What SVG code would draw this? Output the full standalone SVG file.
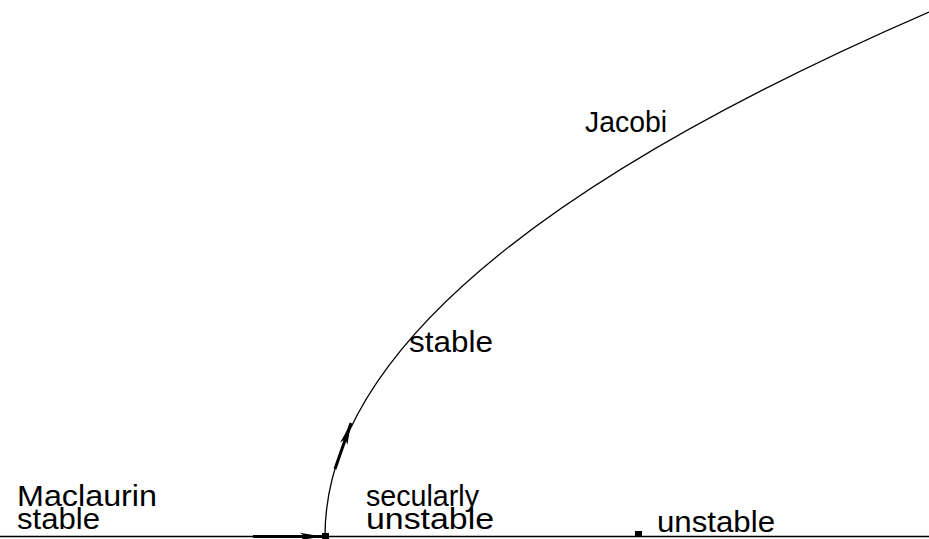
<svg xmlns="http://www.w3.org/2000/svg" width="929" height="539" viewBox="0 0 929 539">
<style>
.t{font-family:"Liberation Sans",Arial,sans-serif;font-size:29px;fill:#000}
.ln{fill:none;stroke:#000;stroke-width:1.3}
.th{fill:none;stroke:#000;stroke-width:3}
</style>
<defs>
<marker id="ah" markerWidth="24" markerHeight="10" refX="22" refY="5" orient="auto" markerUnits="userSpaceOnUse">
<path d="M0,1.2 L22,5 L0,8.8 L5,5 Z" fill="#000"/>
</marker>
</defs>
<rect width="929" height="539" fill="#fff"/>
<g id="connectors">
<path class="ln" d="M0,536.5 L929,536.5"/>
<path class="ln" d="M325,536 Q325,274 929,12"/>
<path class="th" d="M253,536.5 L322,536.5" marker-end="url(#ah)"/>
<path class="th" d="M335,469 L351,423" marker-end="url(#ah)"/>
</g>
<g id="node-bifurcation"><rect x="322" y="533" width="7" height="6" fill="#000"/></g>
<g id="node-unstable-point"><rect x="635" y="531" width="7" height="6" fill="#000"/></g>
<g id="label-maclaurin">
<text class="t" x="17" y="506" textLength="140" lengthAdjust="spacingAndGlyphs">Maclaurin</text>
<text class="t" x="17" y="529" textLength="83" lengthAdjust="spacingAndGlyphs">stable</text>
</g>
<g id="label-secular">
<text class="t" x="366" y="506" textLength="113" lengthAdjust="spacingAndGlyphs">secularly</text>
<text class="t" x="366" y="529" textLength="128" lengthAdjust="spacingAndGlyphs">unstable</text>
</g>
<g id="label-unstable"><text class="t" x="657" y="532" textLength="118" lengthAdjust="spacingAndGlyphs">unstable</text></g>
<g id="label-stable"><text class="t" x="409" y="352" textLength="84" lengthAdjust="spacingAndGlyphs">stable</text></g>
<g id="label-jacobi"><text class="t" x="585" y="132" textLength="82" lengthAdjust="spacingAndGlyphs">Jacobi</text></g>
</svg>
